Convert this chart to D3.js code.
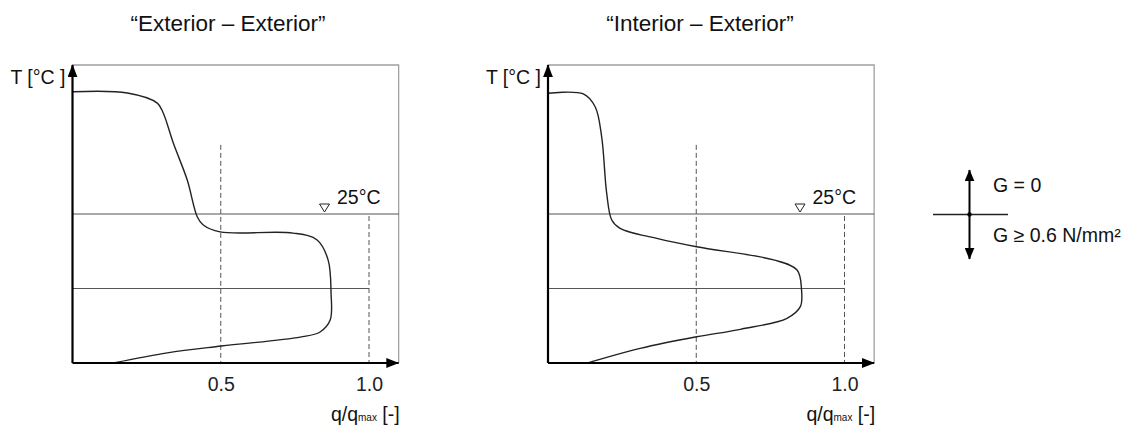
<!DOCTYPE html>
<html><head><meta charset="utf-8">
<script src="https://cdn.jsdelivr.net/npm/d3@7"></script>
<style>body{margin:0;background:#fff}svg{display:block;font-family:"Liberation Sans",Arial,sans-serif}</style>
</head><body><svg id="c" width="1134" height="430"></svg>
<script>
// Data (T in °C on a relative scale, q = q/qmax)
const titles = ["\u201CExterior \u2013 Exterior\u201D", "\u201CInterior \u2013 Exterior\u201D"];
const xTicks = [0.5, 1.0];
const refTemp = 25;      // 25°C line
const lowerTemp = 0;     // lower reference line
const tDomain = [-25, 75];
const extQ = [0, 0.185, 0.286, 0.306, 0.340, 0.387, 0.421, 0.441, 0.498, 0.744, 0.825, 0.862, 0.872, 0.869, 0.835, 0.768, 0.502, 0.320, 0.138];
const extT = [66.0, 65.6, 62.2, 58.9, 48.8, 36.4, 24.0, 21.3, 19.0, 18.6, 16.3, 9.6, -1.5, -10.6, -14.6, -16.3, -19.3, -21.6, -25];
const intQ = [0, 0.119, 0.159, 0.181, 0.198, 0.215, 0.243, 0.367, 0.501, 0.761, 0.840, 0.855, 0.851, 0.806, 0.649, 0.501, 0.311, 0.131];
const intT = [65.5, 65.3, 61.0, 50.9, 31.9, 23.0, 20.2, 16.8, 14.0, 9.6, 6.2, -0.3, -6.1, -10.0, -13.7, -16.2, -20.1, -25];
const legendLabels = ["G = 0", "G \u2265 0.6 N/mm\u00B2"];

const svg = d3.select("#c");
const defs = svg.append("defs");
defs.append("marker").attr("id","arr").attr("viewBox","0 0 10 10").attr("refX",9.5).attr("refY",5)
  .attr("markerWidth",13).attr("markerHeight",10).attr("markerUnits","userSpaceOnUse").attr("orient","auto")
  .attr("preserveAspectRatio","none")
  .append("path").attr("d","M0,0L10,5L0,10Z").attr("fill","#000");
defs.append("marker").attr("id","arrL").attr("viewBox","0 0 10 10").attr("refX",9.5).attr("refY",5)
  .attr("markerWidth",12).attr("markerHeight",10).attr("markerUnits","userSpaceOnUse").attr("orient","auto")
  .attr("preserveAspectRatio","none")
  .append("path").attr("d","M0,0L10,5L0,10Z").attr("fill","#000");

const panels = [
  {x0: 72.5, title: titles[0], titleX: 228, q: extQ, t: extT},
  {x0: 548, title: titles[1], titleX: 700, q: intQ, t: intT}
];
const yBottom = 363, yTop = 65;
const FS = 19.5;

panels.forEach(p => {
  const x = d3.scaleLinear().domain([0, 1]).range([p.x0, p.x0 + 296.5]);
  const y = d3.scaleLinear().domain(tDomain).range([yBottom, yTop]);
  const right = x(1.1);
  const g = svg.append("g");

  g.append("text").attr("x", p.titleX).attr("y", 31).attr("text-anchor","middle")
    .attr("font-size", 22.5).attr("fill","#111").text(p.title);

  // frame
  g.append("path").attr("d", `M${x(0)},${y(tDomain[1])}H${right}V${yBottom}`)
    .attr("fill","none").attr("stroke","#a0a0a0").attr("stroke-width",1.3);

  // reference lines
  g.append("line").attr("x1", x(0)).attr("x2", right).attr("y1", y(refTemp)).attr("y2", y(refTemp))
    .attr("stroke","#555").attr("stroke-width",1.2);
  g.append("line").attr("x1", x(0)).attr("x2", x(1)).attr("y1", y(lowerTemp)).attr("y2", y(lowerTemp))
    .attr("stroke","#555").attr("stroke-width",1.2);

  // dashed verticals
  g.append("line").attr("x1", x(0.5)).attr("x2", x(0.5)).attr("y1", y(48.2)).attr("y2", yBottom)
    .attr("stroke","#555").attr("stroke-width",1).attr("stroke-dasharray","5,3");
  g.append("line").attr("x1", x(1)).attr("x2", x(1)).attr("y1", y(refTemp) + 2).attr("y2", yBottom)
    .attr("stroke","#555").attr("stroke-width",1).attr("stroke-dasharray","5,3");

  // triangle + 25°C label
  const tx = x(0.85), ty = y(refTemp) - 6;
  g.append("path").attr("d", `M${tx-5},${ty-4}L${tx+5},${ty-4}L${tx},${ty+4}Z`)
    .attr("fill","#fff").attr("stroke","#222").attr("stroke-width",1);
  g.append("text").attr("x", tx + 12.5).attr("y", y(refTemp) - 10).attr("font-size",FS).attr("fill","#111")
    .text(refTemp + "\u00B0C");

  // curve
  const pts = p.q.map((q, i) => [q, p.t[i]]);
  g.append("path").datum(pts)
    .attr("d", d3.line().x(d => x(d[0])).y(d => y(d[1])).curve(d3.curveCatmullRom.alpha(0.5)))
    .attr("fill","none").attr("stroke","#222").attr("stroke-width",1.4);

  // axes
  g.append("line").attr("x1", x(0)).attr("x2", x(0)).attr("y1", yBottom).attr("y2", yTop)
    .attr("stroke","#000").attr("stroke-width",2.2).attr("marker-end","url(#arr)");
  g.append("line").attr("x1", x(0)).attr("x2", right).attr("y1", yBottom).attr("y2", yBottom)
    .attr("stroke","#000").attr("stroke-width",2.2).attr("marker-end","url(#arr)");

  // tick labels
  const ax = d3.axisBottom(x).tickValues(xTicks).tickFormat(d3.format(".1f")).tickSize(0).tickPadding(14);
  const axg = g.append("g").attr("transform", `translate(0,${yBottom})`).call(ax);
  axg.select(".domain").remove();
  axg.selectAll("text").attr("font-size",FS).attr("fill","#222").attr("font-family","Liberation Sans, Arial, sans-serif");

  // axis titles
  g.append("text").attr("x", x(0) - 7).attr("y", 84).attr("text-anchor","end").attr("font-size",FS).attr("fill","#111")
    .text("T [\u00B0C ]");
  const xl = g.append("text").attr("x", right + 1).attr("y", 421).attr("text-anchor","end").attr("font-size",FS).attr("fill","#111");
  xl.append("tspan").text("q/q");
  xl.append("tspan").attr("font-size",10).text("max");
  xl.append("tspan").text(" [-]");
});

// legend
const lx = 969.5, ly = 214.5;
svg.append("line").attr("x1", 933).attr("x2", 1008).attr("y1", ly).attr("y2", ly).attr("stroke","#222").attr("stroke-width",1.4);
svg.append("line").attr("x1", lx).attr("x2", lx).attr("y1", ly).attr("y2", 170).attr("stroke","#000").attr("stroke-width",2).attr("marker-end","url(#arrL)");
svg.append("line").attr("x1", lx).attr("x2", lx).attr("y1", ly).attr("y2", 259).attr("stroke","#000").attr("stroke-width",2).attr("marker-end","url(#arrL)");
svg.append("circle").attr("cx", lx).attr("cy", ly).attr("r", 2.2).attr("fill","#000");
svg.append("text").attr("x", 993).attr("y", 192).attr("font-size",FS).attr("fill","#111").text(legendLabels[0]);
svg.append("text").attr("x", 993).attr("y", 242).attr("font-size",FS).attr("fill","#111").text(legendLabels[1]);
</script></body></html>
